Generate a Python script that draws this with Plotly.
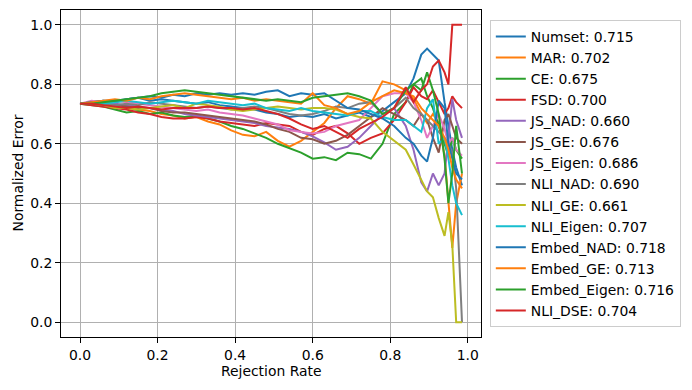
import plotly.graph_objects as go

# rejection rates (main part, then the denser tail)
x_main = [0.00, 0.03, 0.06, 0.09, 0.12, 0.15, 0.18, 0.21, 0.24, 0.27,
          0.30, 0.33, 0.36, 0.39, 0.42, 0.45, 0.48, 0.51, 0.54, 0.57,
          0.60, 0.63, 0.66, 0.69, 0.72, 0.75, 0.78, 0.81, 0.84]
x_tail = [0.86, 0.88, 0.895, 0.91, 0.925, 0.94, 0.95, 0.96, 0.97, 0.985]
rejection = x_main + x_tail

numset = [.735, .74, .745, .74, .75, .755, .745, .75, .745, .74, .735, .74, .73, .725, .72,
          .715, .705, .70, .69, .695, .69, .70, .685, .695, .705, .69, .71, .74, .77,
          .82, .90, .92, .90, .88, .74, .66, .58, .52, .46]
mar = [.735, .735, .73, .725, .72, .715, .71, .70, .695, .685, .69, .675, .665, .645, .63,
       .625, .64, .61, .59, .61, .64, .67, .72, .76, .75, .735, .81, .80, .78,
       .75, .70, .67, .70, .67, .56, .40, .25, .40, .50]
ce = [.735, .73, .725, .715, .705, .71, .70, .705, .695, .69, .695, .685, .675, .66, .65,
      .635, .62, .60, .585, .57, .55, .555, .545, .57, .565, .55, .60, .70, .74,
      .80, .82, .76, .72, .66, .60, .56, .62, .58, .55]
fsd = [.735, .73, .725, .72, .715, .705, .70, .69, .685, .685, .69, .685, .675, .67, .665,
       .66, .67, .665, .66, .64, .63, .65, .66, .635, .60, .62, .635, .68, .74,
       .79, .76, .75, .78, .74, .70, .72, .76, .74, .72]
js_nad = [.735, .74, .74, .735, .73, .725, .72, .715, .71, .70, .695, .69, .685, .68, .675,
          .67, .66, .655, .65, .64, .625, .605, .58, .59, .62, .66, .70, .72, .66,
          .58, .47, .44, .50, .46, .50, .62, .75, .68, .62]
js_ge = [.735, .735, .73, .73, .725, .72, .72, .71, .705, .705, .70, .695, .69, .685, .68,
         .675, .665, .65, .64, .62, .615, .60, .61, .63, .66, .69, .72, .70, .68,
         .66, .70, .68, .62, .57, .68, .70, .66, .62, .60]
js_eigen = [.735, .745, .74, .745, .74, .735, .73, .725, .72, .715, .71, .715, .705, .70, .695,
            .685, .675, .665, .645, .64, .635, .64, .66, .67, .68, .72, .76, .77, .77,
            .74, .68, .62, .66, .70, .65, .60, .62, .58, .56]
nli_nad = [.735, .74, .735, .73, .735, .73, .74, .735, .73, .725, .72, .725, .72, .715, .72,
           .725, .72, .71, .70, .695, .70, .71, .725, .72, .735, .74, .70, .72, .755,
           .72, .70, .68, .66, .64, .62, .60, .57, .45, 0.0]
nli_ge = [.735, .735, .73, .72, .72, .715, .72, .725, .73, .72, .735, .73, .725, .715, .71,
          .715, .72, .725, .72, .715, .72, .72, .715, .70, .69, .685, .64, .61, .58,
          .53, .48, .44, .42, .35, .29, .37, .26, 0.0, 0.0]
nli_eigen = [.735, .74, .735, .74, .745, .74, .735, .74, .745, .74, .735, .745, .74, .735, .73,
             .735, .72, .715, .71, .72, .71, .705, .70, .695, .71, .71, .69, .68, .68,
             .66, .64, .72, .75, .60, .62, .55, .46, .40, .36]
embed_nad = [.735, .74, .745, .745, .75, .755, .76, .755, .765, .76, .77, .765, .77, .765, .77,
             .765, .775, .78, .76, .77, .765, .77, .745, .72, .715, .70, .685, .66, .62,
             .60, .56, .54, .62, .745, .72, .60, .55, .50, .48]
embed_ge = [.735, .74, .745, .75, .745, .755, .75, .76, .765, .77, .765, .76, .755, .75, .755,
            .745, .75, .745, .74, .735, .77, .73, .72, .70, .71, .74, .76, .78, .77,
            .76, .72, .70, .68, .66, .62, .58, .52, .48, .45]
embed_eigen = [.735, .735, .74, .745, .75, .755, .76, .77, .775, .78, .775, .77, .765, .76, .755,
               .75, .745, .75, .745, .74, .755, .76, .765, .77, .76, .745, .70, .72, .78,
               .80, .78, .84, .78, .70, .55, .40, .50, .66, .50]
nli_dse = [.735, .735, .73, .725, .72, .725, .72, .715, .72, .72, .72, .725, .72, .72, .715,
           .72, .71, .70, .685, .665, .65, .66, .64, .62, .65, .67, .69, .72, .79,
           .74, .78, .80, .86, .88, .84, .80, 1.0, 1.0, 1.0]

methods = ["Numset", "MAR", "CE", "FSD", "JS_NAD", "JS_GE", "JS_Eigen", "NLI_NAD",
           "NLI_GE", "NLI_Eigen", "Embed_NAD", "Embed_GE", "Embed_Eigen", "NLI_DSE"]
scores = [0.715, 0.702, 0.675, 0.700, 0.660, 0.676, 0.686, 0.690,
          0.661, 0.707, 0.718, 0.713, 0.716, 0.704]
series = [numset, mar, ce, fsd, js_nad, js_ge, js_eigen, nli_nad,
          nli_ge, nli_eigen, embed_nad, embed_ge, embed_eigen, nli_dse]

TAB10 = ["#1f77b4", "#ff7f0e", "#2ca02c", "#d62728", "#9467bd",
         "#8c564b", "#e377c2", "#7f7f7f", "#bcbd22", "#17becf"]
FS = 13.9

fig = go.Figure()
for i, (name, score, ys) in enumerate(zip(methods, scores, series)):
    fig.add_trace(go.Scatter(
        x=rejection, y=ys, mode="lines",
        name=f"{name}: {score:.3f}",
        legendgroup=name,
        line=dict(color=TAB10[i % 10], width=2),
    ))

axis_style = dict(
    showgrid=True, gridcolor="#b0b0b0", gridwidth=1,
    showline=True, linecolor="black", linewidth=1, mirror=True,
    ticks="outside", ticklen=5, tickcolor="black",
    tickformat=".1f", dtick=0.2, zeroline=False,
    tickfont=dict(size=FS, color="black"),
)

# the page body adds an 8px offset, so the figure is 8px smaller each way
fig.update_layout(
    width=684, height=382,
    margin=dict(l=53, r=211, t=2, b=53),
    paper_bgcolor="white", plot_bgcolor="white",
    font=dict(family="DejaVu Sans", size=FS, color="black"),
    xaxis=dict(axis_style, range=[-0.049, 1.034]),
    yaxis=dict(axis_style, range=[-0.05, 1.05]),
    legend=dict(x=1.021, y=0.5, xanchor="left", yanchor="middle",
                bordercolor="#cccccc", borderwidth=1, bgcolor="white",
                font=dict(size=FS), tracegroupgap=0),
    showlegend=True,
)

# axis titles placed like matplotlib's
fig.add_annotation(text="Rejection Rate", xref="paper", yref="paper",
                   x=0.5, y=0, yshift=-34,
                   xanchor="center", yanchor="middle", showarrow=False,
                   font=dict(size=FS))
fig.add_annotation(text="Normalized Error", xref="paper", yref="paper",
                   x=0, xshift=-44, y=0.5, textangle=-90,
                   xanchor="center", yanchor="middle", showarrow=False,
                   font=dict(size=FS))

fig.write_html("out.html")
